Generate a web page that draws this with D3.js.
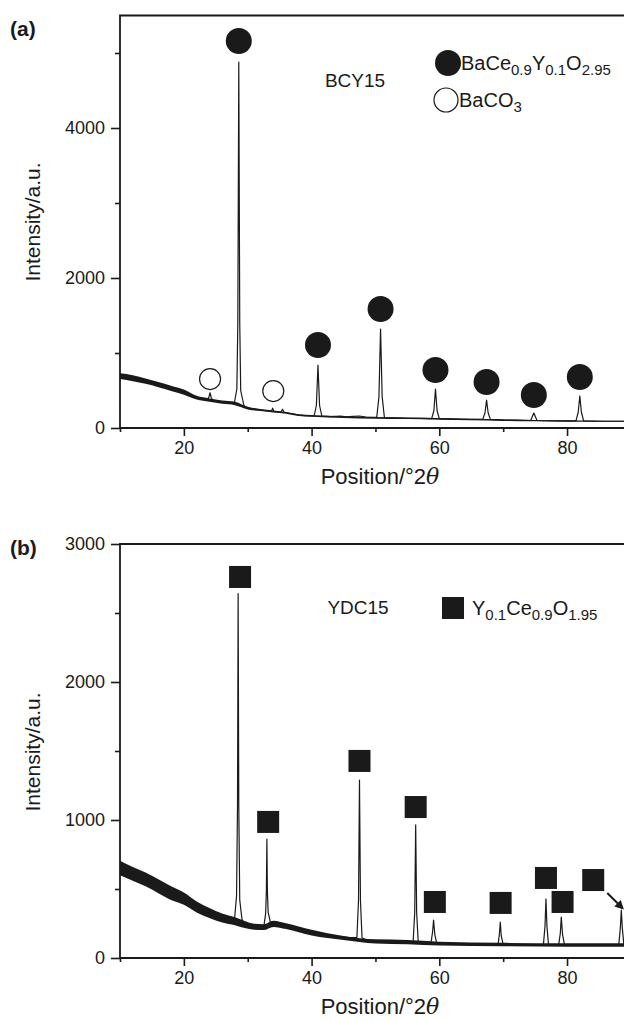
<!DOCTYPE html>
<html>
<head>
<meta charset="utf-8">
<script src="https://cdn.jsdelivr.net/npm/d3@7"></script>
<style>
  body { margin: 0; background: #fff; }
  svg { display: block; font-family: "Liberation Sans", Arial, sans-serif; }
  .axis path, .axis line { stroke: #1a1a1a; stroke-width: 1.6; }
  .axis text { font-size: 18px; fill: #1a1a1a; font-family: "Liberation Sans", Arial, sans-serif; }
</style>
</head>
<body>
<svg id="chart" width="624" height="1021"></svg>
<script>
// ---- panel (a): BCY15 ----
const thetaA = [10, 11, 12, 13, 14, 15, 16, 17, 18, 19, 20, 21, 22, 23, 23.7, 23.95, 24.1, 24.3, 24.6, 25, 26, 27, 27.9, 28.3, 28.45, 28.6, 28.75, 28.9, 29.4, 30, 31, 32, 33, 33.7, 33.9, 34.1, 35.2, 35.45, 35.7, 37, 38, 39, 40.4, 40.75, 41.0, 41.25, 41.6, 43, 44.5, 45.5, 46.5, 47.5, 48.5, 50.2, 50.55, 50.8, 51.05, 51.4, 53, 55, 57, 58.8, 59.15, 59.4, 59.65, 60.0, 62, 65, 66.8, 67.15, 67.4, 67.65, 68.0, 70, 72, 74.3, 74.8, 75.3, 77, 79, 81.4, 81.75, 82.0, 82.25, 82.6, 84, 86, 88, 90];
const intensityA = [693, 680, 665, 645, 625, 600, 580, 555, 530, 505, 480, 440, 405, 385, 375, 420, 470, 400, 368, 360, 345, 335, 330, 520, 1400, 4880, 1400, 500, 300, 265, 252, 240, 230, 222, 265, 220, 212, 250, 210, 190, 172, 165, 160, 300, 840, 300, 160, 152, 158, 150, 155, 160, 145, 142, 420, 1320, 420, 140, 135, 130, 128, 125, 230, 520, 230, 125, 118, 115, 115, 200, 373, 200, 115, 108, 105, 100, 200, 100, 97, 95, 95, 210, 427, 210, 95, 92, 90, 90, 90];
// noise band of the background (lower / upper edge)
const bandThetaA = [10, 12, 14, 16, 18, 20, 22, 24, 26, 28, 30, 32, 34, 36, 38, 40, 45, 50, 55, 60, 65, 70, 75, 80, 85, 90];
const bandLowA = [655, 625, 590, 545, 495, 445, 380, 350, 322, 305, 248, 226, 207, 190, 160, 150, 135, 125, 120, 110, 105, 95, 90, 85, 82, 82];
const bandHighA = [730, 705, 660, 615, 565, 515, 430, 395, 368, 350, 282, 254, 233, 212, 183, 172, 158, 148, 140, 133, 123, 115, 108, 103, 98, 98];
const perovskitePeaks = [[28.6, 5160], [41.0, 1107], [50.8, 1587], [59.4, 773], [67.4, 613], [74.8, 440], [82.0, 680]];
const carbonatePeaks = [[24.1, 653], [34.0, 493]];

// ---- panel (b): YDC15 ----
const thetaB = [10, 11, 12, 13, 14, 15, 16, 17, 18, 19, 20, 21, 22, 23, 24, 25, 26, 27, 27.9, 28.25, 28.4, 28.5, 28.6, 28.75, 29.1, 29.5, 30.5, 31.5, 32.5, 32.8, 32.92, 33.0, 33.08, 33.2, 33.6, 34, 35, 36, 37, 38, 39, 40, 42, 44, 46, 47.1, 47.35, 47.5, 47.65, 47.9, 49, 51, 53, 55, 55.9, 56.15, 56.3, 56.45, 56.7, 58.7, 58.95, 59.1, 59.3, 59.6, 62, 65, 67, 69.2, 69.4, 69.55, 69.7, 70, 73, 76.3, 76.55, 76.7, 76.85, 77.1, 78.7, 78.95, 79.1, 79.3, 79.6, 82, 85, 88.1, 88.35, 88.5, 88.65, 88.9, 90];
const intensityB = [652, 630, 610, 590, 570, 548, 520, 495, 470, 450, 430, 400, 370, 345, 326, 305, 290, 275, 265, 450, 1100, 2640, 1100, 420, 280, 245, 232, 225, 222, 320, 480, 862, 480, 330, 250, 248, 242, 232, 220, 205, 195, 185, 170, 155, 148, 150, 420, 1290, 420, 145, 125, 120, 118, 117, 118, 330, 964, 330, 115, 110, 190, 275, 170, 105, 100, 100, 98, 97, 170, 261, 160, 97, 95, 97, 230, 428, 230, 97, 97, 180, 297, 170, 95, 95, 95, 95, 220, 348, 220, 95, 95];
const bandThetaB = [10, 12, 14, 16, 18, 20, 22, 24, 26, 28, 29.5, 31, 32.5, 34, 36, 40, 45, 50, 55, 60, 70, 80, 90];
const bandLowB = [600, 560, 520, 470, 420, 385, 330, 290, 258, 238, 218, 205, 202, 225, 210, 163, 130, 105, 100, 90, 85, 82, 82];
const bandHighB = [705, 660, 620, 570, 520, 475, 410, 362, 322, 295, 268, 248, 245, 270, 252, 205, 160, 135, 130, 118, 110, 106, 106];
const fluoritePeaks = [[28.8, 2761], [33.2, 986], [47.5, 1428], [56.3, 1094], [59.3, 406], [69.6, 399], [76.7, 580], [79.3, 406], [84.1, 565]];
const arrowB = [[86.3, 471], [88.7, 360]];

const xMajor = [20, 40, 60, 80];
const xMinor = [10, 30, 50, 70, 90];

const svg = d3.select('#chart');
const FONT = '"Liberation Sans", Arial, sans-serif';
const ink = '#1a1a1a';

const x = d3.scaleLinear().domain([10, 90]).range([120, 630.9]);

function drawPanel(cfg) {
  const y = d3.scaleLinear().domain(cfg.yDomain).range([cfg.y0, cfg.yTop]);
  const g = svg.append('g');

  g.append('clipPath').attr('id', cfg.id + '-clip')
    .append('rect')
    .attr('x', 120).attr('y', cfg.yTop)
    .attr('width', 504).attr('height', cfg.y0 - cfg.yTop);

  const plot = g.append('g').attr('clip-path', `url(#${cfg.id}-clip)`);

  // noisy background band
  const band = cfg.band.theta.map((t, i) => ({ t, lo: cfg.band.low[i], hi: cfg.band.high[i] }));
  plot.append('path')
    .datum(band)
    .attr('fill', ink)
    .attr('d', d3.area().x(d => x(d.t)).y0(d => y(d.lo)).y1(d => y(d.hi)).curve(d3.curveMonotoneX));

  const trace = cfg.theta.map((t, i) => [t, cfg.intensity[i]]);
  plot.append('path')
    .datum(trace)
    .attr('fill', 'none')
    .attr('stroke', ink)
    .attr('stroke-width', 1.2)
    .attr('stroke-linejoin', 'round')
    .attr('d', d3.line().x(d => x(d[0])).y(d => y(d[1])));

  // axes
  g.append('g').attr('class', 'axis')
    .attr('transform', `translate(0,${cfg.y0})`)
    .call(d3.axisBottom(x).tickValues(xMajor).tickSize(8).tickPadding(5).tickSizeOuter(0))
    .call(a => a.select('.domain').remove());
  g.append('g').attr('class', 'axis')
    .attr('transform', `translate(0,${cfg.y0})`)
    .call(d3.axisBottom(x).tickValues(xMinor).tickSize(4).tickFormat('').tickSizeOuter(0))
    .call(a => a.select('.domain').remove());
  g.append('g').attr('class', 'axis')
    .attr('transform', 'translate(120,0)')
    .call(d3.axisLeft(y).tickValues(cfg.yMajor).tickSize(9).tickPadding(6).tickFormat(d3.format('d')))
    .call(a => a.select('.domain').remove());
  g.append('g').attr('class', 'axis')
    .attr('transform', 'translate(120,0)')
    .call(d3.axisLeft(y).tickValues(cfg.yMinor).tickSize(5).tickFormat(''))
    .call(a => a.select('.domain').remove());

  // frame: left, bottom, top
  g.append('path')
    .attr('fill', 'none').attr('stroke', ink).attr('stroke-width', 1.8)
    .attr('d', `M624,${cfg.yTop}H120V${cfg.y0}H624`);

  // titles
  g.append('text')
    .attr('x', 380).attr('y', cfg.y0 + 56)
    .attr('text-anchor', 'middle')
    .attr('font-size', 22).attr('fill', ink).attr('font-family', FONT)
    .call(t => {
      t.append('tspan').text('Position/°2');
      t.append('tspan').attr('font-style', 'italic').attr('font-family', '"DejaVu Serif", serif').text('θ');
    });
  g.append('text')
    .attr('transform', `translate(${cfg.yTitleX},${cfg.yTitleY}) rotate(-90)`)
    .attr('text-anchor', 'middle')
    .attr('font-size', 21).attr('fill', ink).attr('font-family', FONT)
    .text('Intensity/a.u.');
  g.append('text')
    .attr('x', 10).attr('y', cfg.labelY)
    .attr('font-size', 21).attr('font-weight', 'bold').attr('fill', ink).attr('font-family', FONT)
    .text(cfg.label);

  return { g, y };
}

// ---------- panel (a) ----------
const pa = drawPanel({
  id: 'a', yDomain: [0, 5500], y0: 428, yTop: 15.5,
  yMajor: [0, 2000, 4000], yMinor: [1000, 3000, 5000],
  theta: thetaA, intensity: intensityA,
  band: { theta: bandThetaA, low: bandLowA, high: bandHighA },
  yTitleX: 40, yTitleY: 222, label: '(a)', labelY: 36
});

pa.g.selectAll('circle.fill')
  .data(perovskitePeaks).join('circle')
  .attr('class', 'fill')
  .attr('cx', d => x(d[0])).attr('cy', d => pa.y(d[1]))
  .attr('r', 13).attr('fill', ink);
pa.g.selectAll('circle.open')
  .data(carbonatePeaks).join('circle')
  .attr('class', 'open')
  .attr('cx', d => x(d[0])).attr('cy', d => pa.y(d[1]))
  .attr('r', 10.5).attr('fill', 'none').attr('stroke', ink).attr('stroke-width', 1.2);

pa.g.append('text').attr('x', 355).attr('y', 87).attr('text-anchor', 'middle')
  .attr('font-size', 19).attr('fill', ink).attr('font-family', FONT).text('BCY15');

pa.g.append('circle').attr('cx', 448).attr('cy', 63).attr('r', 13).attr('fill', ink);
pa.g.append('circle').attr('cx', 446).attr('cy', 100).attr('r', 12)
  .attr('fill', 'none').attr('stroke', ink).attr('stroke-width', 1.2);

function formula(g, xPos, yPos, parts) {
  const t = g.append('text').attr('x', xPos).attr('y', yPos)
    .attr('font-size', 20).attr('fill', ink).attr('font-family', FONT);
  let sub = false;
  parts.forEach(p => {
    const isSub = p.startsWith('_');
    const s = t.append('tspan').text(isSub ? p.slice(1) : p);
    if (isSub) {
      s.attr('font-size', 15);
      if (!sub) s.attr('dy', 5);
    } else if (sub) {
      s.attr('dy', -5);
    }
    sub = isSub;
  });
  return t;
}
formula(pa.g, 461, 70, ['BaCe', '_0.9', 'Y', '_0.1', 'O', '_2.95']);
formula(pa.g, 459, 107, ['BaCO', '_3']);

// ---------- panel (b) ----------
const pb = drawPanel({
  id: 'b', yDomain: [0, 3000], y0: 958, yTop: 544,
  yMajor: [0, 1000, 2000, 3000], yMinor: [500, 1500, 2500],
  theta: thetaB, intensity: intensityB,
  band: { theta: bandThetaB, low: bandLowB, high: bandHighB },
  yTitleX: 40, yTitleY: 752, label: '(b)', labelY: 555
});

pb.g.selectAll('rect.sq')
  .data(fluoritePeaks).join('rect')
  .attr('class', 'sq')
  .attr('x', d => x(d[0]) - 11).attr('y', d => pb.y(d[1]) - 11)
  .attr('width', 22).attr('height', 22).attr('fill', ink);

svg.append('defs').append('marker')
  .attr('id', 'arrowhead').attr('viewBox', '0 0 10 10')
  .attr('refX', 8).attr('refY', 5)
  .attr('markerWidth', 4.5).attr('markerHeight', 4.5)
  .attr('orient', 'auto')
  .append('path').attr('d', 'M0,0L10,5L0,10Z').attr('fill', ink);

pb.g.append('line')
  .attr('x1', x(arrowB[0][0])).attr('y1', pb.y(arrowB[0][1]))
  .attr('x2', x(arrowB[1][0])).attr('y2', pb.y(arrowB[1][1]))
  .attr('stroke', ink).attr('stroke-width', 2)
  .attr('marker-end', 'url(#arrowhead)');

pb.g.append('text').attr('x', 358).attr('y', 614).attr('text-anchor', 'middle')
  .attr('font-size', 19).attr('fill', ink).attr('font-family', FONT).text('YDC15');
pb.g.append('rect').attr('x', 442).attr('y', 597).attr('width', 22).attr('height', 22).attr('fill', ink);
formula(pb.g, 472, 615, ['Y', '_0.1', 'Ce', '_0.9', 'O', '_1.95']);
</script>
</body>
</html>
